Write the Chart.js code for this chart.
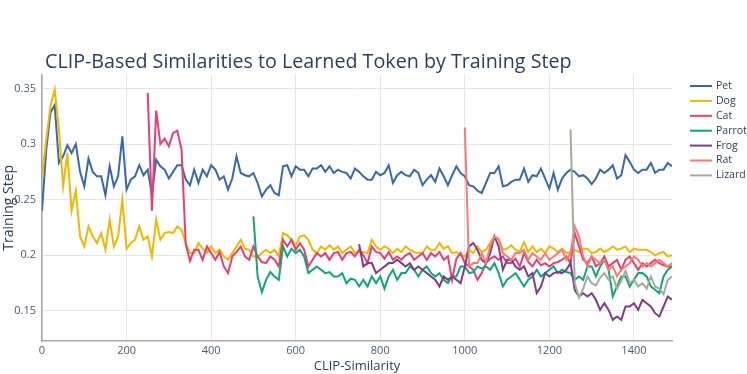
<!DOCTYPE html>
<html>
<head>
<meta charset="utf-8">
<script src="https://cdn.jsdelivr.net/npm/chart.js@4.4.0/dist/chart.umd.min.js"></script>
<style>
  html, body { margin: 0; padding: 0; background: #fff; }
  canvas { display: block; }
</style>
</head>
<body>
<canvas id="chart" width="747" height="374"></canvas>
<script>
// training steps (every 10th step)
const STEPS = [0,10,20,30,40,50,60,70,80,90,100,110,120,130,140,150,160,170,180,190,
  200,210,220,230,240,250,260,270,280,290,300,310,320,330,340,350,360,370,380,390,
  400,410,420,430,440,450,460,470,480,490,500,510,520,530,540,550,560,570,580,590,
  600,610,620,630,640,650,660,670,680,690,700,710,720,730,740,750,760,770,780,790,
  800,810,820,830,840,850,860,870,880,890,900,910,920,930,940,950,960,970,980,990,
  1000,1010,1020,1030,1040,1050,1060,1070,1080,1090,1100,1110,1120,1130,1140,1150,1160,1170,1180,1190,
  1200,1210,1220,1230,1240,1250,1260,1270,1280,1290,1300,1310,1320,1330,1340,1350,1360,1370,1380,1390,
  1400,1410,1420,1430,1440,1450,1460,1470,1480,1490];

const PET = [0.240,0.295,0.328,0.335,0.283,0.289,0.299,0.292,0.300,0.275,
  0.262,0.287,0.275,0.271,0.271,0.254,0.280,0.262,0.271,0.307,
  0.259,0.268,0.271,0.281,0.272,0.277,0.254,0.286,0.280,0.277,
  0.269,0.275,0.281,0.281,0.268,0.263,0.277,0.265,0.277,0.271,
  0.281,0.277,0.268,0.271,0.259,0.269,0.289,0.274,0.272,0.271,
  0.274,0.265,0.253,0.259,0.263,0.256,0.254,0.280,0.281,0.271,
  0.280,0.277,0.277,0.271,0.278,0.278,0.281,0.275,0.280,0.274,
  0.277,0.275,0.274,0.269,0.278,0.275,0.271,0.268,0.268,0.275,
  0.272,0.274,0.281,0.265,0.272,0.275,0.272,0.271,0.277,0.274,
  0.263,0.268,0.272,0.266,0.278,0.271,0.263,0.272,0.280,0.274,
  0.271,0.263,0.262,0.258,0.256,0.265,0.274,0.274,0.280,0.262,
  0.263,0.266,0.268,0.268,0.278,0.266,0.272,0.271,0.278,0.269,
  0.260,0.274,0.259,0.269,0.274,0.277,0.275,0.271,0.272,0.269,
  0.264,0.269,0.277,0.274,0.277,0.281,0.269,0.272,0.290,0.284,
  0.277,0.274,0.277,0.277,0.283,0.274,0.277,0.277,0.283,0.280];

const DOG = [0.270,0.304,0.334,0.349,0.313,0.262,0.292,0.240,0.258,0.217,
  0.208,0.226,0.217,0.211,0.220,0.205,0.232,0.208,0.217,0.250,
  0.206,0.211,0.214,0.226,0.214,0.217,0.199,0.232,0.214,0.220,
  0.221,0.220,0.226,0.223,0.211,0.202,0.202,0.211,0.206,0.202,
  0.208,0.202,0.205,0.199,0.196,0.202,0.208,0.214,0.206,0.205,
  0.199,0.199,0.202,0.205,0.202,0.205,0.199,0.220,0.218,0.214,
  0.209,0.217,0.218,0.214,0.205,0.202,0.208,0.205,0.209,0.205,
  0.208,0.202,0.205,0.208,0.202,0.203,0.203,0.202,0.214,0.208,
  0.205,0.208,0.206,0.202,0.206,0.203,0.208,0.205,0.203,0.202,
  0.202,0.208,0.205,0.205,0.211,0.206,0.208,0.202,0.203,0.200,
  0.199,0.205,0.202,0.208,0.203,0.205,0.211,0.217,0.215,0.205,
  0.206,0.209,0.205,0.203,0.212,0.203,0.208,0.203,0.206,0.202,
  0.208,0.206,0.203,0.206,0.202,0.203,0.205,0.203,0.206,0.206,
  0.202,0.203,0.206,0.203,0.205,0.208,0.205,0.206,0.208,0.203,
  0.206,0.205,0.205,0.205,0.203,0.200,0.202,0.203,0.199,0.200];

// from step 250
const CAT = [0.346,0.240,0.330,0.300,0.305,0.298,0.310,0.312,0.295,0.210,
  0.195,0.205,0.205,0.196,0.208,0.202,0.196,0.203,0.190,0.184,
  0.199,0.203,0.208,0.199,0.196,0.208,0.199,0.194,0.193,0.199,
  0.196,0.190,0.214,0.208,0.214,0.205,0.211,0.205,0.190,0.196,
  0.202,0.199,0.202,0.196,0.202,0.203,0.196,0.202,0.203,0.199,
  0.205,0.200,0.193,0.208,0.203,0.202,0.197,0.203,0.196,0.199,
  0.196,0.200,0.202,0.196,0.199,0.202,0.196,0.202,0.199,0.203,
  0.196,0.199,0.178,0.197,0.202,0.193,0.190,0.187,0.178,0.184,
  0.193,0.197,0.199,0.196,0.199,0.193,0.193,0.197,0.190,0.202,
  0.194,0.190,0.196,0.191,0.193,0.190,0.193,0.194,0.196,0.199,
  0.193,0.220,0.208,0.196,0.193,0.199,0.190,0.193,0.199,0.190,
  0.193,0.196,0.187,0.196,0.199,0.193,0.187,0.193,0.190,0.193,
  0.196,0.193,0.191,0.190,0.190];

// from step 500
const PARROT = [0.235,0.181,0.167,0.178,0.185,0.181,0.178,0.208,0.199,0.206,
  0.202,0.205,0.199,0.184,0.187,0.190,0.187,0.184,0.185,0.181,
  0.181,0.184,0.175,0.179,0.178,0.172,0.178,0.172,0.181,0.175,
  0.181,0.170,0.181,0.187,0.178,0.184,0.184,0.190,0.187,0.181,
  0.187,0.190,0.184,0.181,0.184,0.178,0.175,0.181,0.181,0.190,
  0.190,0.184,0.185,0.190,0.188,0.190,0.187,0.193,0.184,0.172,
  0.178,0.181,0.184,0.178,0.172,0.178,0.181,0.187,0.181,0.184,
  0.187,0.190,0.184,0.187,0.185,0.184,0.178,0.181,0.178,0.190,
  0.190,0.181,0.190,0.196,0.187,0.163,0.172,0.181,0.181,0.172,
  0.178,0.184,0.184,0.181,0.172,0.169,0.166,0.181,0.187,0.190];

// from step 750
const FROG = [0.210,0.190,0.193,0.193,0.184,0.187,0.190,0.193,0.193,0.196,
  0.193,0.190,0.193,0.187,0.190,0.187,0.184,0.181,0.178,0.172,
  0.181,0.178,0.181,0.178,0.175,0.190,0.208,0.211,0.205,0.196,
  0.193,0.202,0.217,0.208,0.187,0.196,0.196,0.190,0.187,0.190,
  0.181,0.184,0.166,0.172,0.184,0.181,0.184,0.185,0.184,0.187,
  0.193,0.169,0.163,0.166,0.163,0.166,0.160,0.151,0.157,0.151,
  0.142,0.145,0.142,0.154,0.154,0.157,0.151,0.160,0.157,0.154,
  0.148,0.145,0.154,0.163,0.160];

// from step 1000
const RAT = [0.315,0.190,0.193,0.193,0.202,0.193,0.208,0.217,0.214,0.202,
  0.199,0.196,0.202,0.202,0.205,0.196,0.202,0.199,0.196,0.202,
  0.196,0.199,0.202,0.205,0.196,0.202,0.226,0.217,0.199,0.190,
  0.199,0.196,0.193,0.196,0.187,0.190,0.181,0.187,0.190,0.193,
  0.199,0.196,0.190,0.193,0.190,0.193,0.196,0.193,0.190,0.193];

// from step 1250
const LIZARD = [0.313,0.175,0.162,0.170,0.181,0.175,0.173,0.180,0.184,0.178,
  0.181,0.170,0.177,0.186,0.175,0.178,0.172,0.175,0.170,0.181,
  0.172,0.170,0.165,0.178,0.181];

const SERIES = [
  { name: 'Pet',    values: PET,    start: 0,    color: '#3969AC' },
  { name: 'Dog',    values: DOG,    start: 0,    color: '#F2B701' },
  { name: 'Cat',    values: CAT,    start: 250,  color: '#E73F74' },
  { name: 'Parrot', values: PARROT, start: 500,  color: '#11A579' },
  { name: 'Frog',   values: FROG,   start: 750,  color: '#7F3C8D' },
  { name: 'Rat',    values: RAT,    start: 1000, color: '#F97B72' },
  { name: 'Lizard', values: LIZARD, start: 1250, color: '#A5AA99' }
];

const X_TICKS = [0, 200, 400, 600, 800, 1000, 1200, 1400];
const Y_TICKS = [0.15, 0.2, 0.25, 0.3, 0.35];
const TITLE = 'CLIP-Based Similarities to Learned Token by Training Step';

const datasets = SERIES.map((s, i) => {
  const steps = STEPS.slice(STEPS.indexOf(s.start));
  return {
    label: s.name,
    data: s.values.map((v, j) => ({ x: steps[j], y: v })),
    borderColor: s.color,
    backgroundColor: s.color,
    borderWidth: 2,
    pointRadius: 0,
    tension: 0,
    order: SERIES.length - i   // later traces on top, like the original
  };
});

// title + legend drawn at the same spots as the reference
const titleAndLegend = {
  id: 'titleAndLegend',
  afterDraw(chart) {
    const ctx = chart.ctx;
    ctx.save();
    ctx.textBaseline = 'middle';
    ctx.fillStyle = '#2a3f5f';
    ctx.font = '19.7px "Open Sans"';
    ctx.fillText(TITLE, 45, 62);

    ctx.font = '10.5px "Open Sans"';
    SERIES.forEach((s, i) => {
      const y = 86 + i * 14.9;
      ctx.strokeStyle = s.color;
      ctx.lineWidth = 2;
      ctx.beginPath();
      ctx.moveTo(690, y);
      ctx.lineTo(712, y);
      ctx.stroke();
      ctx.fillStyle = '#2a3f5f';
      ctx.fillText(s.name, 716, y);
    });
    ctx.restore();
  }
};

new Chart(document.getElementById('chart'), {
  type: 'line',
  data: { datasets },
  options: {
    responsive: false,
    animation: false,
    devicePixelRatio: 1,
    layout: { padding: { top: 74.5, right: 75, left: 0, bottom: 0 } },
    plugins: { legend: { display: false }, title: { display: false }, tooltip: { enabled: false } },
    scales: {
      x: {
        type: 'linear',
        min: 0,
        max: 1490,
        afterBuildTicks: s => { s.ticks = X_TICKS.map(v => ({ value: v })); },
        afterFit: s => { s.height = 33; },
        grid: { color: '#e6e6e6', lineWidth: 1, drawTicks: false },
        border: { display: true, color: '#a8a8a8', width: 1.5 },
        ticks: { color: '#4a5a78', font: { family: 'Open Sans', size: 11 }, padding: 3, maxRotation: 0,
                 callback: v => String(v) },
        title: { display: true, text: 'CLIP-Similarity', color: '#2a3f5f',
                 font: { family: 'Open Sans', size: 13 }, padding: { top: 0, bottom: 0 } }
      },
      y: {
        min: 0.123,
        max: 0.3625,
        afterBuildTicks: s => { s.ticks = Y_TICKS.map(v => ({ value: v })); },
        afterFit: s => { s.width = 42; },
        grid: { color: '#e6e6e6', lineWidth: 1, drawTicks: false },
        border: { display: true, color: '#a8a8a8', width: 1.5 },
        ticks: { color: '#4a5a78', font: { family: 'Open Sans', size: 11 }, padding: 6,
                 callback: v => String(+v.toFixed(2)) },
        title: { display: true, text: 'Training Step', color: '#2a3f5f',
                 font: { family: 'Open Sans', size: 14 }, padding: { top: 1, bottom: 0 } }
      }
    }
  },
  plugins: [titleAndLegend]
});
</script>
</body>
</html>
